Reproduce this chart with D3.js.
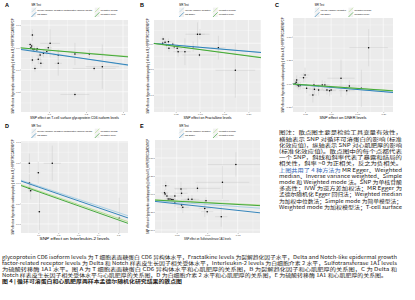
<!DOCTYPE html>
<html>
<head>
<meta charset="utf-8">
<script src="https://cdn.jsdelivr.net/npm/d3@7"></script>
<style>
  html, body { margin: 0; padding: 0; background: #fff; }
  svg { display: block; }
</style>
</head>
<body>
<div id="fig"></div>
<script>
// MR scatter plots, 5 panels + caption text

const methods = ['Inverse variance weighted', 'MR Egger', 'Weighted median', 'Weighted mode'];
const methodColors = ['#a6cee3', '#1f78b4', '#b2df8a', '#33a02c'];
const ivwLong = 'Inverse variance weighted (multiplicative random effects)';
const panelLetters = ['A', 'B', 'C', 'D', 'E'];
const yTitle = 'SNP effect on Hypertrophic cardiomyopathy || id:finn-b-I9_HYPERTROCARDMYOP';
const xTitles = [
  'SNP effect on T-cell surface glycoprotein CD6 isoform levels',
  'SNP effect on Fractalkine levels',
  'SNP effect on DNER levels',
  'SNP effect on Interleukin-2 levels',
  'SNP effect on Sulfotransferase 1A1 levels',
];

// [beta.exposure, beta.outcome, se.exposure, se.outcome]
const snpA = [
  [0.055, 0.055, 0.006, 0.026], [0.049, 0.013, 0.008, 0.012], [0.053, 0.006, 0.006, 0.010],
  [0.051, -0.002, 0.005, 0.010], [0.056, -0.008, 0.007, 0.012], [0.058, -0.012, 0.006, 0.010],
  [0.061, -0.009, 0.010, 0.014], [0.068, -0.006, 0.008, 0.012], [0.067, -0.012, 0.006, 0.010],
  [0.076, -0.035, 0.010, 0.020], [0.085, -0.027, 0.012, 0.018], [0.098, -0.002, 0.010, 0.016],
  [0.103, 0.018, 0.027, 0.063], [0.094, -0.020, 0.010, 0.014], [0.125, -0.035, 0.014, 0.025],
  [0.125, -0.072, 0.010, 0.056], [0.055, -0.057, 0.006, 0.016], [0.062, -0.095, 0.008, 0.015],
  [0.071, -0.054, 0.008, 0.020], [0.078, -0.072, 0.008, 0.018], [0.170, -0.030, 0.010, 0.050],
  [0.209, -0.030, 0.040, 0.020], [0.222, -0.095, 0.058, 0.010], [0.244, -0.087, 0.045, 0.100],
  [0.170, -0.212, 0.039, 0.010],
];
const snpB = [
  [0.024, 0.083, 0.005, 0.05], [0.023, 0.000, 0.004, 0.04], [0.028, 0.019, 0.006, 0.05],
  [0.035, 0.031, 0.006, 0.06], [0.031, -0.033, 0.005, 0.05], [0.036, -0.097, 0.006, 0.07],
  [0.047, -0.066, 0.008, 0.06], [0.053, -0.097, 0.010, 0.08], [0.055, -0.163, 0.010, 0.10],
  [0.069, -0.163, 0.012, 0.26], [0.086, -0.066, 0.012, 0.10], [0.095, 0.174, 0.025, 0.23],
  [0.100, 0.174, 0.010, 0.10], [0.099, -0.227, 0.035, 0.05], [0.138, -0.085, 0.015, 0.23],
  [0.173, -0.523, 0.041, 0.53], [0.044, -0.020, 0.006, 0.05],
];
const snpC = [
  [0.034, 0.035, 0.006, 0.05], [0.031, -0.005, 0.005, 0.03], [0.035, -0.015, 0.006, 0.04],
  [0.033, 0.010, 0.004, 0.03], [0.038, -0.030, 0.006, 0.04], [0.037, -0.020, 0.005, 0.03],
  [0.041, -0.025, 0.006, 0.04], [0.047, 0.060, 0.008, 0.05], [0.050, 0.089, 0.008, 0.08],
  [0.053, -0.054, 0.008, 0.05], [0.067, -0.018, 0.010, 0.05], [0.068, -0.064, 0.010, 0.06],
  [0.065, -0.126, 0.008, 0.08], [0.076, -0.072, 0.010, 0.06], [0.083, -0.018, 0.012, 0.05],
  [0.088, -0.018, 0.010, 0.04], [0.092, -0.072, 0.012, 0.05], [0.097, -0.079, 0.012, 0.06],
  [0.100, -0.072, 0.010, 0.05], [0.119, 0.054, 0.026, 0.20], [0.135, -0.029, 0.020, 0.06],
  [0.130, -0.079, 0.015, 0.05], [0.158, -0.054, 0.012, 0.20], [0.172, 0.382, 0.037, 0.20],
];
const snpD = [
  [0.055, 0.48, 0.008, 0.24], [0.055, 0.007, 0.008, 0.21], [0.055, -0.13, 0.008, 0.10],
  [0.062, -0.19, 0.010, 0.21], [0.100, 0.25, 0.010, 0.27], [0.170, 0.48, 0.043, 0.43],
  [0.105, -0.70, 0.008, 0.45], [0.505, -0.86, 0.010, 0.50],
];
const snpE = [
  [0.030, 0.018, 0.006, 0.04], [0.031, 0.000, 0.005, 0.03], [0.034, -0.028, 0.006, 0.04],
  [0.032, 0.115, 0.006, 0.06], [0.036, -0.070, 0.006, 0.04], [0.039, -0.070, 0.007, 0.04],
  [0.042, -0.075, 0.006, 0.05], [0.044, -0.080, 0.008, 0.04], [0.047, -0.028, 0.008, 0.05],
  [0.047, -0.120, 0.008, 0.06], [0.057, 0.069, 0.010, 0.10], [0.058, 0.010, 0.010, 0.05],
  [0.058, -0.153, 0.010, 0.06], [0.060, -0.185, 0.010, 0.08], [0.069, -0.074, 0.012, 0.05],
  [0.075, -0.074, 0.012, 0.06], [0.084, 0.079, 0.038, 0.05], [0.098, -0.093, 0.038, 0.05],
  [0.096, -0.200, 0.010, 0.12], [0.100, -0.246, 0.010, 0.05], [0.123, -0.315, 0.010, 0.14],
  [0.125, 0.162, 0.044, 0.23], [0.147, 0.410, 0.046, 0.17],
];

// [slope, intercept] per method (IVW, Egger, W median, W mode)
const fitA = [[-0.26, 0], [-0.24, -0.004], [-0.13, 0], [-0.14, 0.001]];
const fitB = [[-0.78, 0], [-0.80, 0.002], [-1.20, 0], [-1.25, 0.003]];
const fitC = [[-0.44, 0], [-0.47, 0.004], [-0.36, 0], [-0.38, 0.002]];
const fitD = [[-1.62, 0.09], [-1.68, 0.07], [-1.68, -0.02], [-1.72, -0.04]];
const fitE = [[-0.60, -0.085], [-0.92, -0.09], [-0.42, -0.075], [-0.45, -0.078]];

const xDomA = [0.0243, 0.3135], yDomA = [-0.291, 0.123];
const xDomB = [0.0052, 0.226], yDomB = [-1.33, 0.45];
const xDomC = [0.0269, 0.2187], yDomC = [-0.308, 0.70];
const xDomD = [0.0135, 0.549], yDomD = [-1.22, 1.024];
const xDomE = [0.0144, 0.1866], yDomE = [-0.542, 0.75];

const xTicksA = [0.1, 0.2, 0.3], yTicksA = [0.1, 0, -0.1, -0.2];
const xTicksB = [0.05, 0.1, 0.15, 0.2], yTicksB = [0, -0.5, -1.0];
const xTicksC = [0.05, 0.1, 0.15, 0.2], yTicksC = [0.5, 0.25, 0, -0.25];
const xTicksD = [0.1, 0.2, 0.3, 0.4, 0.5], yTicksD = [1.0, 0.5, 0, -0.5, -1.0];
const xTicksE = [0.05, 0.1, 0.15], yTicksE = [0.5, 0.25, 0, -0.25, -0.5];

const noteLines = [
  '图注：散点图主要是检验工具变量有效性，',
  '横轴表示 SNP 对循环可溶蛋白的影响 (标准',
  '化效应值)，纵轴表示 SNP 对心肌肥厚的影响',
  '(标准化效应值)。散点图中的每个点都代表',
  '一个 SNP，斜线和斜率代表了暴露和结局的',
  '相关性，斜率 >0 为正相关，反之为负相关。',
  '上图共用了 4 种方法为 MR Egger、Weighted',
  'median、Inverse variance weighted、Simple',
  'mode 和 Weighted mode 法。SNP 为单核苷酸',
  '多态性；IVW 为逆方差加权法；MR Egger 为',
  '孟德尔随机化 Egger 回归法；Weighted median',
  '为加权中位数法；Simple mode 为简单模型法；',
  'Weighted mode 为加权模型法；T-cell surface',
];
const captionLines = [
  'glycoprotein CD6 isoform levels 为 T 细胞表面糖蛋白 CD6 异构体水平，Fractalkine levels 为裂解趋化因子水平，Delta and Notch-like epidermal growth',
  'factor-related receptor levels 为 Delta 和 Notch 样表皮生长因子相关受体水平，Interleukin-2 levels 为白细胞介素 2 水平，Sulfotransferase 1A1 levels',
  '为硫酸转移酶 1A1 水平。图 A 为 T 细胞表面糖蛋白 CD6 异构体水平和心肌肥厚的关系图，B 为裂解趋化因子和心肌肥厚的关系图，C 为 Delta 和',
  'Notch 样表皮生长因子相关受体水平与心肌肥厚的关系图，D 为白细胞介素 2 水平和心肌肥厚的关系图，E 为硫酸转移酶 1A1 和心肌肥厚的关系图。',
];
const captionTitle = '图 4 | 循环可溶蛋白和心肌肥厚两样本孟德尔随机化研究结果的散点图';

// layout
const panels = [
  { ox: 0, oy: 0, frame: { x: 21, y: 20, w: 107, h: 92 }, snp: snpA, fit: fitA, xDom: xDomA, yDom: yDomA,
    xTicks: xTicksA, yTicks: yTicksA, xFmt: '.1f', yFmt: '.1f', ivw: ivwLong, xTitleW: 89 },
  { ox: 135, oy: 0, frame: { x: 154, y: 20, w: 107, h: 92 }, snp: snpB, fit: fitB, xDom: xDomB, yDom: yDomB,
    xTicks: xTicksB, yTicks: yTicksB, xFmt: '.2f', yFmt: '.1f', ivw: methods[0], xTitleW: 48 },
  { ox: 270, oy: 0, frame: { x: 293, y: 18, w: 100, h: 94 }, snp: snpC, fit: fitC, xDom: xDomC, yDom: yDomC,
    xTicks: xTicksC, yTicks: yTicksC, xFmt: '.2f', yFmt: '.2f', ivw: methods[0], xTitleW: 47 },
  { ox: 0, oy: 121, frame: { x: 21, y: 141, w: 107, h: 92 }, snp: snpD, fit: fitD, xDom: xDomD, yDom: yDomD,
    xTicks: xTicksD, yTicks: yTicksD, xFmt: '.1f', yFmt: '.1f', ivw: ivwLong, xTitleW: 70 },
  { ox: 135, oy: 121, frame: { x: 155, y: 140, w: 105, h: 93 }, snp: snpE, fit: fitE, xDom: xDomE, yDom: yDomE,
    xTicks: xTicksE, yTicks: yTicksE, xFmt: '.2f', yFmt: '.2f', ivw: methods[0], xTitleW: 47 },
];

const sans = '"Liberation Sans", Arial, sans-serif';
const cjk = '"Noto Sans CJK SC", "Noto Sans", sans-serif';

const svg = d3.select('#fig').append('svg')
  .attr('width', 415).attr('height', 300)
  .attr('viewBox', [0, 0, 415, 300]);

const midpoints = (ticks, dom) => {
  const s = ticks[1] - ticks[0];
  const lo = Math.min(...dom), hi = Math.max(...dom);
  const out = [];
  for (let k = -1; k < ticks.length; k++) {
    const v = ticks[0] + (k + 0.5) * s;
    if (v > lo && v < hi) out.push(v);
  }
  return out;
};
const fmtMinus = (spec) => (v) => d3.format(spec)(v).replace('\u2212', '-');

panels.forEach((p, i) => {
  const f = p.frame;
  const x = d3.scaleLinear().domain(p.xDom).range([f.x, f.x + f.w]);
  const y = d3.scaleLinear().domain(p.yDom).range([f.y + f.h, f.y]);
  const g = svg.append('g').attr('font-family', sans);

  g.append('rect')
    .attr('x', f.x).attr('y', f.y).attr('width', f.w).attr('height', f.h)
    .attr('fill', '#EBEBEB');

  // grid
  g.selectAll('.vminor').data(midpoints(p.xTicks, p.xDom)).join('line')
    .attr('x1', (d) => x(d)).attr('x2', (d) => x(d)).attr('y1', f.y).attr('y2', f.y + f.h)
    .attr('stroke', '#fff').attr('stroke-width', 0.3);
  g.selectAll('.hminor').data(midpoints(p.yTicks, p.yDom)).join('line')
    .attr('y1', (d) => y(d)).attr('y2', (d) => y(d)).attr('x1', f.x).attr('x2', f.x + f.w)
    .attr('stroke', '#fff').attr('stroke-width', 0.3);
  g.selectAll('.vmajor').data(p.xTicks).join('line')
    .attr('x1', (d) => x(d)).attr('x2', (d) => x(d)).attr('y1', f.y).attr('y2', f.y + f.h)
    .attr('stroke', '#fff').attr('stroke-width', 0.6);
  g.selectAll('.hmajor').data(p.yTicks).join('line')
    .attr('y1', (d) => y(d)).attr('y2', (d) => y(d)).attr('x1', f.x).attr('x2', f.x + f.w)
    .attr('stroke', '#fff').attr('stroke-width', 0.6);

  svg.append('clipPath').attr('id', `clip${i}`)
    .append('rect').attr('x', f.x).attr('y', f.y).attr('width', f.w).attr('height', f.h);
  const plot = g.append('g').attr('clip-path', `url(#clip${i})`);

  // error bars
  plot.selectAll('.ev').data(p.snp).join('line')
    .attr('x1', (d) => x(d[0])).attr('x2', (d) => x(d[0]))
    .attr('y1', (d) => y(d[1] - d[3])).attr('y2', (d) => y(d[1] + d[3]))
    .attr('stroke', '#bebebe').attr('stroke-width', 0.35);
  plot.selectAll('.eh').data(p.snp).join('line')
    .attr('y1', (d) => y(d[1])).attr('y2', (d) => y(d[1]))
    .attr('x1', (d) => x(d[0] - d[2])).attr('x2', (d) => x(d[0] + d[2]))
    .attr('stroke', '#bebebe').attr('stroke-width', 0.35);
  plot.selectAll('circle').data(p.snp).join('circle')
    .attr('cx', (d) => x(d[0])).attr('cy', (d) => y(d[1]))
    .attr('r', 0.75).attr('fill', '#000');

  // method lines
  plot.selectAll('.fit').data(p.fit).join('line')
    .attr('x1', x(p.xDom[0])).attr('x2', x(p.xDom[1]))
    .attr('y1', (d) => y(d[0] * p.xDom[0] + d[1]))
    .attr('y2', (d) => y(d[0] * p.xDom[1] + d[1]))
    .attr('stroke', (d, j) => methodColors[j]).attr('stroke-width', 0.9);

  // axes
  const xAxis = d3.axisBottom(x).tickValues(p.xTicks).tickFormat(fmtMinus(p.xFmt))
    .tickSize(0.9).tickPadding(0.5);
  const yAxis = d3.axisLeft(y).tickValues(p.yTicks).tickFormat(fmtMinus(p.yFmt))
    .tickSize(0.9).tickPadding(0.6);
  const gx = g.append('g').attr('transform', `translate(0,${f.y + f.h})`).call(xAxis);
  const gy = g.append('g').attr('transform', `translate(${f.x},0)`).call(yAxis);
  [gx, gy].forEach((ax) => {
    ax.select('.domain').remove();
    ax.attr('font-size', 2.4).attr('font-family', sans).attr('color', '#4d4d4d');
    ax.selectAll('line').attr('stroke', '#333').attr('stroke-width', 0.3);
  });

  // axis titles
  g.append('text')
    .attr('x', f.x + f.w / 2).attr('y', p.oy + 118.5)
    .attr('text-anchor', 'middle').attr('font-size', 3)
    .attr('textLength', p.xTitleW).attr('lengthAdjust', 'spacingAndGlyphs')
    .text(xTitles[i]);
  g.append('text')
    .attr('transform', `translate(${p.ox + 14.3},${f.y + f.h / 2}) rotate(-90)`)
    .attr('text-anchor', 'middle').attr('font-size', 3)
    .attr('textLength', 95).attr('lengthAdjust', 'spacingAndGlyphs')
    .text(yTitle);

  // panel letter
  g.append('text')
    .attr('x', p.ox + 5).attr('y', p.oy + 7)
    .attr('font-size', 5.5).attr('font-weight', 'bold')
    .text(panelLetters[i]);

  // legend
  const kw = 4.7;
  const lg = g.append('g');
  lg.append('text').attr('x', 0).attr('y', p.oy + 6).attr('font-size', 2.6).text('MR Test');
  const labels = [p.ivw, methods[1], methods[2], methods[3]];
  const rowTop = [p.oy + 7.6, p.oy + 12.3];
  const drawEntry = (j, cx) => {
    const ry = rowTop[j % 2];
    lg.append('rect').attr('x', cx).attr('y', ry).attr('width', kw).attr('height', kw).attr('fill', '#f2f2f2');
    lg.append('line').attr('x1', cx).attr('y1', ry + kw).attr('x2', cx + kw).attr('y2', ry)
      .attr('stroke', methodColors[j]).attr('stroke-width', 0.6);
    return lg.append('text').attr('x', cx + kw + 1.1).attr('y', ry + kw / 2 + 0.8)
      .attr('font-size', 2.2).text(labels[j]);
  };
  const w1 = d3.max([0, 1].map((j) => drawEntry(j, 0).node().getComputedTextLength()));
  const c2 = kw + 1.1 + w1 + 2.5;
  const w2 = d3.max([2, 3].map((j) => drawEntry(j, c2).node().getComputedTextLength()));
  const W = c2 + kw + 1.1 + w2;
  lg.attr('transform', `translate(${f.x + f.w / 2 - W / 2},0)`);
});

// right-hand note
const note = svg.append('g').attr('font-family', cjk).attr('fill', '#231815');
noteLines.forEach((t, i) => {
  const tx = note.append('text')
    .attr('x', 279).attr('y', 134.3 + i * 6.2)
    .attr('font-size', 5.1)
    .attr('textLength', 123).attr('lengthAdjust', 'spacingAndGlyphs');
  if (i === 6) {
    tx.append('tspan').attr('fill', '#2f5fb3').text('上图共用了 4 种方法为');
    tx.append('tspan').text(t.replace('上图共用了 4 种方法为', ''));
  } else {
    tx.text(t);
  }
});

// bottom caption
const cap = svg.append('g').attr('font-family', cjk).attr('fill', '#231815');
const capWidths = [395, 395, 395, 385];
captionLines.forEach((t, i) => {
  cap.append('text')
    .attr('x', 2).attr('y', 258.8 + i * 6)
    .attr('font-size', 4.9)
    .attr('textLength', capWidths[i]).attr('lengthAdjust', 'spacingAndGlyphs')
    .text(t);
});
cap.append('text')
  .attr('x', 2).attr('y', 282.8)
  .attr('font-size', 4.9).attr('font-weight', 'bold')
  .attr('textLength', 180).attr('lengthAdjust', 'spacingAndGlyphs')
  .text(captionTitle);
</script>
</body>
</html>
